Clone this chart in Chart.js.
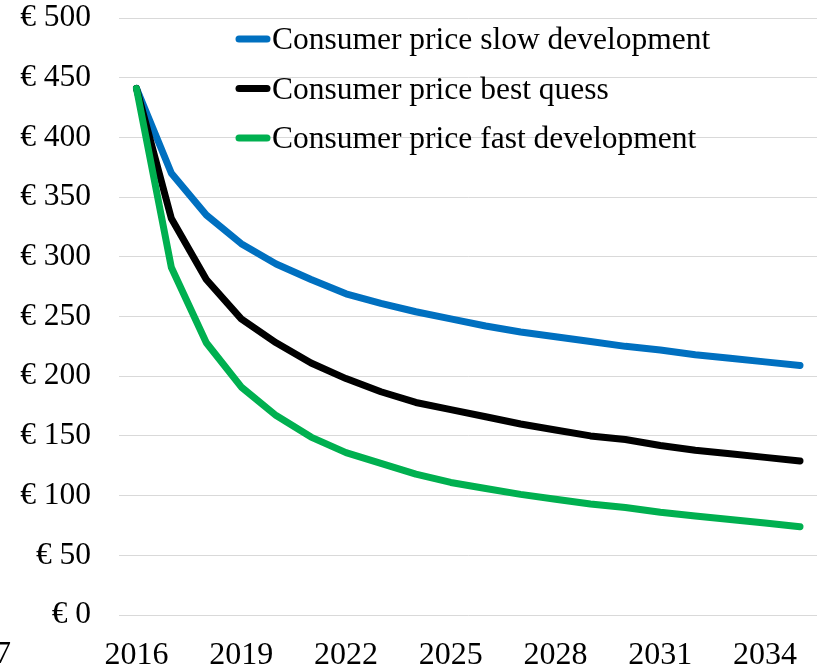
<!DOCTYPE html>
<html>
<head>
<meta charset="utf-8">
<script src="https://cdn.jsdelivr.net/npm/chart.js@4/dist/chart.umd.min.js"></script>
<style>
  html, body { margin: 0; padding: 0; background: #fff; overflow: hidden; }
  #wrap { position: relative; width: 817px; height: 667px; overflow: hidden; }
  canvas { position: absolute; left: 0; top: 0; }
  #cut { position: absolute; left: -5px; top: 636px; font: 32px/1 "Liberation Serif", serif; color: #000; }
</style>
</head>
<body>
<div id="wrap">
  <canvas id="c" width="821" height="667"></canvas>
  <div id="cut">7</div>
</div>
<script>
const years = ["2016","2017","2018","2019","2020","2021","2022","2023","2024","2025",
               "2026","2027","2028","2029","2030","2031","2032","2033","2034","2035"];
const slowDevelopment = [441, 370, 335, 311, 294, 281, 269, 261, 254, 248,
                         242, 237, 233, 229, 225, 222, 218, 215, 212, 209];
const bestGuess       = [441, 332, 281, 248, 228, 211, 198, 187, 178, 172,
                         166, 160, 155, 150, 147, 142, 138, 135, 132, 129];
const fastDevelopment = [441, 291, 228, 191, 167, 149, 136, 127, 118, 111,
                         106, 101, 97, 93, 90, 86, 83, 80, 77, 74];
const seriesLabels = ["Consumer price slow development", "Consumer price best quess", "Consumer price fast development"];
const seriesColors = ["#0070C0", "#000000", "#00B050"];
const yTicks = [0, 50, 100, 150, 200, 250, 300, 350, 400, 450, 500];

const FONT = '"Liberation Serif", "Times New Roman", serif';

const legendPlugin = {
  id: 'insideLegend',
  afterDraw(chart) {
    const ctx = chart.ctx;
    ctx.save();
    seriesLabels.forEach((label, i) => {
      const y = 39 + i * 49.5;
      ctx.strokeStyle = seriesColors[i];
      ctx.lineWidth = 7;
      ctx.lineCap = 'round';
      ctx.beginPath();
      ctx.moveTo(239, y);
      ctx.lineTo(267, y);
      ctx.stroke();
      ctx.fillStyle = '#000';
      ctx.font = '31.5px ' + FONT;
      ctx.textBaseline = 'alphabetic';
      ctx.textAlign = 'left';
      ctx.fillText(label, 272, y + 10);
    });
    ctx.restore();
  }
};

const series = [slowDevelopment, bestGuess, fastDevelopment];

new Chart(document.getElementById('c'), {
  type: 'line',
  data: {
    labels: years,
    datasets: series.map((d, i) => ({
      label: seriesLabels[i],
      data: d,
      order: series.length - 1 - i,
      borderColor: seriesColors[i],
      backgroundColor: seriesColors[i],
      borderWidth: 7,
      pointRadius: 0,
      tension: 0,
      borderCapStyle: 'round',
      borderJoinStyle: 'round',
      fill: false
    }))
  },
  options: {
    responsive: false,
    animation: false,
    layout: { padding: { top: 18, right: 0, left: 0, bottom: 0 } },
    plugins: {
      legend: { display: false },
      tooltip: { enabled: false }
    },
    scales: {
      x: {
        offset: true,
        grid: { display: false, drawTicks: false },
        border: { display: false },
        ticks: {
          autoSkip: false,
          maxRotation: 0,
          padding: 21,
          color: '#000',
          font: { family: FONT, size: 32 },
          callback: function(v, i) { return i % 3 === 0 ? years[i] : ''; }
        },
        afterFit(scale) { scale.height = 52; }
      },
      y: {
        min: 0,
        max: 500,
        afterBuildTicks(scale) { scale.ticks = yTicks.map(v => ({ value: v })); },
        grid: { color: '#d9d9d9', lineWidth: 1, drawTicks: false },
        border: { display: false },
        ticks: {
          padding: 28,
          color: '#000',
          font: { family: FONT, size: 31.5 },
          callback: v => '€ ' + v
        },
        afterFit(scale) {
          scale.width = 119;
          scale.paddingTop = 0;
          scale.paddingBottom = 0;
        }
      }
    }
  },
  plugins: [legendPlugin]
});
</script>
</body>
</html>
